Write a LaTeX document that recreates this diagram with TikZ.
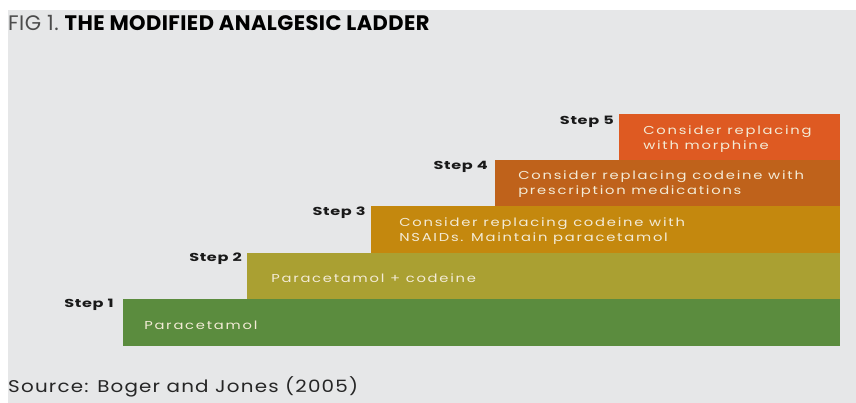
\documentclass[tikz,border=0pt]{standalone}
\usepackage{fontspec}
\setmainfont{Poppins}
\newfontfamily\barfont[LetterSpace=12]{Poppins}
\newfontfamily\labfont[LetterSpace=4]{Poppins}
\newfontfamily\titlefont[LetterSpace=2]{Poppins}
\newfontfamily\srcfont[LetterSpace=6]{Poppins}
\usepackage{tikz}

\definecolor{panelgrey}{HTML}{E6E7E8}
\definecolor{stepone}{HTML}{5B8C3E}
\definecolor{steptwo}{HTML}{AAA032}
\definecolor{stepthree}{HTML}{C4880E}
\definecolor{stepfour}{HTML}{BF621B}
\definecolor{stepfive}{HTML}{DE5A22}
\definecolor{bartextcol}{HTML}{F3EBD6}

\begin{document}
\begin{tikzpicture}[
    x=1pt, y=-1pt,
    steplabel/.style={anchor=east, inner sep=0pt, transform shape, xscale=1.4,
        font=\labfont\bfseries\fontsize{11.5}{12}\selectfont, text=black!90},
    bartext/.style={anchor=west, inner sep=0pt, align=left, transform shape, xscale=1.28,
        text=bartextcol, font=\barfont\fontsize{11.5}{15}\selectfont},
]
\useasboundingbox (0,0) rectangle (856,403);

% Hintergrund
\fill[panelgrey] (8,10) rectangle (856,403);

% Titel
\node[anchor=west, inner sep=0pt, font=\titlefont\fontsize{21}{24}\selectfont] (title) at (8,23)
  {\textcolor{black!70}{FIG 1.}~\textbf{THE MODIFIED ANALGESIC LADDER}};

% Stufen der Leiter
\fill[stepone]   (123,299) rectangle (840,346);
\fill[steptwo]   (247,253) rectangle (840,299);
\fill[stepthree] (371,206) rectangle (840,253);
\fill[stepfour]  (495,160) rectangle (840,206);
\fill[stepfive]  (619,114) rectangle (840,160);

% Beschriftung der Stufen
\node[steplabel] (lab1) at (114,305) {Step 1};
\node[steplabel] (lab2) at (242,259) {Step 2};
\node[steplabel] (lab3) at (366,213) {Step 3};
\node[steplabel] (lab4) at (488,167) {Step 4};
\node[steplabel] (lab5) at (614,122) {Step 5};

% Texte in den Stufen
\node[bartext] (txt1) at (144,325) {Paracetamol};
\node[bartext] (txt2) at (271,278) {Paracetamol + codeine};
\node[bartext] (txt3) at (399,231) {Consider replacing codeine with\\NSAIDs. Maintain paracetamol};
\node[bartext] (txt4) at (518,184) {Consider replacing codeine with\\prescription medications};
\node[bartext] (txt5) at (643,139) {Consider replacing\\with morphine};

% Quelle
\node[anchor=west, inner sep=0pt, transform shape, xscale=1.17, font=\srcfont\fontsize{17}{20}\selectfont, text=black!85] (source) at (8,387)
  {Source: Boger and Jones (2005)};

\end{tikzpicture}
\end{document}
